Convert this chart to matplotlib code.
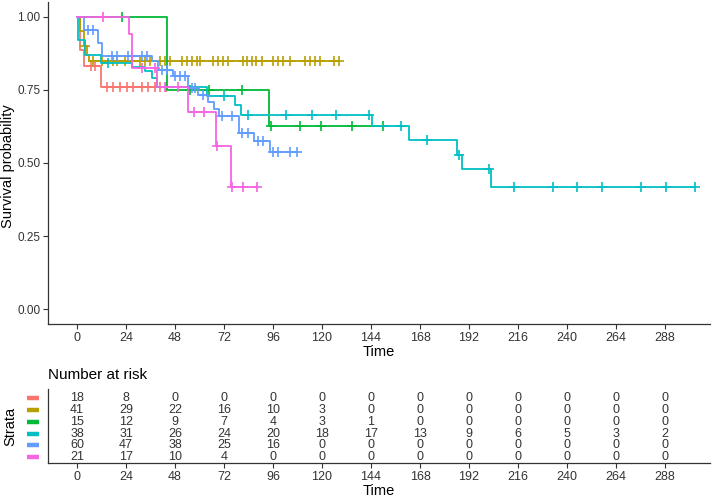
import numpy as np
import matplotlib
matplotlib.use("Agg")
import matplotlib.pyplot as plt
import matplotlib.transforms as mtransforms

plt.rcParams['font.family'] = ['Liberation Sans', 'DejaVu Sans']

# step curves: event times and survival after each step, plus censor times
red_t = [0, 1.5, 3.4, 11.8]
red_s = [1.0, 0.887, 0.83, 0.759]
red_cens = [6.7, 8.8, 14.5, 17.8, 21.1, 24.3, 27.6, 31.7, 34.9, 38.2, 40.6, 43.5]

gold_t = [0, 1.5, 3.3, 4.7, 6.0]
gold_s = [1.0, 0.95, 0.898, 0.87, 0.85]
gold_cens = [3.9, 8, 12.1, 17.5, 19.4, 23.5, 26.8, 30.9, 33.3, 35.8, 40.6, 43.1,
             45.5, 51.3, 53.7, 56.2, 58.6, 60.2, 66.8, 69.2, 71.6, 74.1, 81.4,
             83.4, 85.6, 87.7, 90.5, 96.1, 98.6, 101, 104.3, 111.6, 114, 116.5,
             119, 125.8, 128.3]

green_t = [0, 44.2, 94.2]
green_s = [1.0, 0.75, 0.625]
green_cens = [21.9, 55.3, 64.8, 80.7, 95.0, 109.2, 119.4, 134.5, 149.7]

cyan_t = [0, 0.7, 3.9, 12.0, 26.8, 33.3, 36.6, 39.3, 63.5, 77.2, 80.3,
          144.6, 162.6, 186.3, 188.4, 202.9]
cyan_s = [1.0, 0.92, 0.87, 0.841, 0.828, 0.813, 0.79, 0.759, 0.73, 0.699,
          0.664, 0.625, 0.579, 0.527, 0.478, 0.417]
cyan_cens = [15.3, 72.0, 83.9, 102.4, 115, 126.9, 143.2, 158.7, 171.6, 187.2,
             202, 214, 233, 245, 257.3, 276.1, 288.5, 302.7]

blue_t = [0, 3.3, 10.4, 12.1, 36.6, 39.8, 46.8, 54.2, 59.4, 64.3, 67.2, 69.7,
          79.4, 86.7, 94.7]
blue_s = [1.0, 0.955, 0.91, 0.864, 0.847, 0.818, 0.798, 0.756, 0.733, 0.71,
          0.684, 0.659, 0.604, 0.574, 0.538]
blue_cens = [5.5, 8.0, 17, 19.4, 25.1, 26.8, 31.7, 34.1, 41.5, 43.9, 48, 50.5,
             52.9, 56.1, 57.6, 61.9, 70.9, 75.8, 80.7, 83.9, 88.8, 91.3, 96.2,
             98.6, 104.3, 107.6]

pink_t = [0, 25.6, 26.8, 39.3, 54.4, 67.9, 75.3]
pink_s = [1.0, 0.94, 0.826, 0.759, 0.674, 0.558, 0.419]
pink_cens = [12.6, 31.7, 38.2, 43.1, 49.6, 57.5, 62.4, 68.6, 75.9, 81.2, 88.2]

# number at risk table
risk_times = [0, 24, 48, 72, 96, 120, 144, 168, 192, 216, 240, 264, 288]
risk_red = [18, 8, 0, 0, 0, 0, 0, 0, 0, 0, 0, 0, 0]
risk_gold = [41, 29, 22, 16, 10, 3, 0, 0, 0, 0, 0, 0, 0]
risk_green = [15, 12, 9, 7, 4, 3, 1, 0, 0, 0, 0, 0, 0]
risk_cyan = [38, 31, 26, 24, 20, 18, 17, 13, 9, 6, 5, 3, 2]
risk_blue = [60, 47, 38, 25, 16, 0, 0, 0, 0, 0, 0, 0, 0]
risk_pink = [21, 17, 10, 4, 0, 0, 0, 0, 0, 0, 0, 0, 0]

colors = ['#F8766D', '#B79F00', '#00BA38', '#00BFC4', '#619CFF', '#F564E3']
curves = [(red_t, red_s, red_cens), (gold_t, gold_s, gold_cens),
          (green_t, green_s, green_cens), (cyan_t, cyan_s, cyan_cens),
          (blue_t, blue_s, blue_cens), (pink_t, pink_s, pink_cens)]
risks = [risk_red, risk_gold, risk_green, risk_cyan, risk_blue, risk_pink]

W, H = 714, 498
fig = plt.figure(figsize=(W / 100, H / 100), dpi=100)
ax = fig.add_axes([48 / W, 1 - 324 / H, 662 / W, 322 / H])

for (t, s, c), col in zip(curves, colors):
    t = np.array(t, float)
    s = np.array(s, float)
    c = np.array(c, float)
    end = max(t[-1], c.max())
    xs = np.append(t, end)
    ys = np.append(s, s[-1])
    ax.step(xs, ys, where='post', color=col, lw=1.3)
    cs = s[np.searchsorted(t, c, side='right') - 1]
    ax.plot(c, cs, ls='none', marker='+', color=col, ms=7, mew=1.2)

xlim = (-14.2, 310)
ticks = np.arange(0, 289, 24)
ax.set_xlim(*xlim)
ax.set_ylim(-0.05, 1.05)
ax.set_xticks(ticks)
ax.set_yticks([0, 0.25, 0.5, 0.75, 1.0])
ax.set_yticklabels(['0.00', '0.25', '0.50', '0.75', '1.00'])
ax.set_xlabel('Time', fontsize=10.5, labelpad=1)
for a in ['top', 'right']:
    ax.spines[a].set_visible(False)
for a in ['left', 'bottom']:
    ax.spines[a].set_color('#333333')
    ax.spines[a].set_linewidth(0.9)
ax.tick_params(labelsize=9, colors='#333333', length=3.5, width=0.8, pad=2)
ax.tick_params(axis='y', labelsize=8.5)
fig.text(8 / W, 1 - 166 / H, 'Survival probability', fontsize=10.5,
         rotation=90, va='center', ha='center')

# risk table
ax2 = fig.add_axes([48 / W, 1 - 463 / H, 662 / W, 74 / H])
rows = np.arange(6, 0, -1)
for r, vals, col in zip(rows, risks, colors):
    for tt, v in zip(risk_times, vals):
        ax2.text(tt, r, str(v), ha='center', va='center', fontsize=9,
                 color='#333333')
    tr = mtransforms.blended_transform_factory(ax2.transAxes, ax2.transData)
    ax2.plot([-0.0317, -0.0136], [r, r], transform=tr, color=col, lw=3.2,
             solid_capstyle='butt', clip_on=False)
ax2.set_xlim(*xlim)
ax2.set_ylim(0.52, 6.76)
ax2.set_xticks(ticks)
ax2.set_yticks([])
ax2.set_xlabel('Time', fontsize=10.5, labelpad=1)
for a in ['top', 'right']:
    ax2.spines[a].set_visible(False)
for a in ['left', 'bottom']:
    ax2.spines[a].set_color('#333333')
    ax2.spines[a].set_linewidth(0.9)
ax2.tick_params(labelsize=9, colors='#333333', length=3.5, width=0.8, pad=2)

fig.text(48 / W, 1 - 375 / H, 'Number at risk', fontsize=11, va='center',
         ha='left')
fig.text(10 / W, 1 - 426 / H, 'Strata', fontsize=10.5, rotation=90,
         va='center', ha='center')

fig.savefig('out.png', dpi=100)
